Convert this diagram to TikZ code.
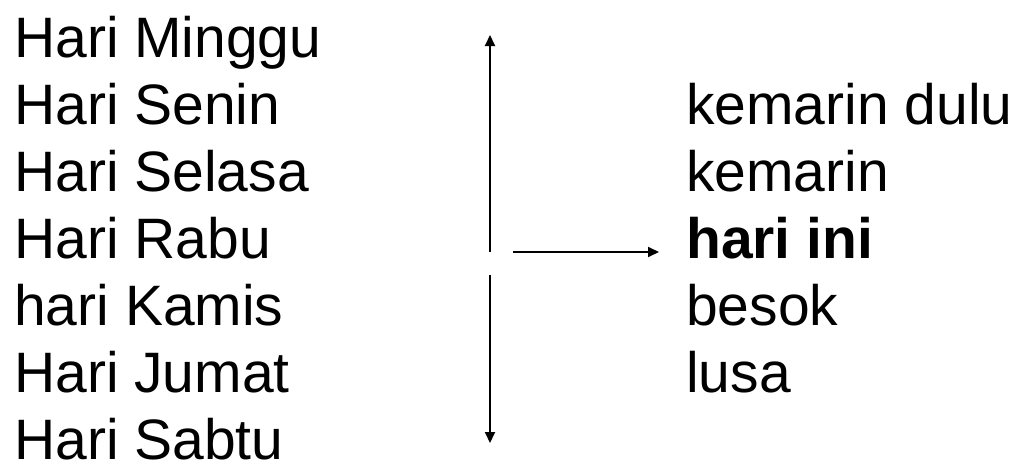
\documentclass[tikz,border=0pt]{standalone}
\usepackage{fontspec}
\setmainfont{Liberation Sans}
\usetikzlibrary{arrows.meta}
\begin{document}
\begin{tikzpicture}[x=1pt,y=1pt,>={Triangle[length=11pt,width=10pt]},
  word/.style={anchor=base west,inner sep=0pt,font=\fontsize{57}{67}\selectfont}]
\useasboundingbox (0,0) rectangle (1021,-466);
\foreach \d [count=\i] in {Hari Minggu,Hari Senin,Hari Selasa,Hari Rabu,hari Kamis,Hari Jumat,Hari Sabtu}
\node[word] (day\i) at (14,{-57-67*(\i-1)}) {\d};
\foreach \w [count=\i from 2] in {kemarin dulu,kemarin,{\bfseries hari ini},besok,lusa}
\node[word] (rel\i) at (686,{-57-67*(\i-1)}) {\w};
\coordinate (pasttip) at (490,-35);
\coordinate (pastend) at (490,-252);
\coordinate (nextend) at (490,-275);
\coordinate (nexttip) at (490,-443);
\coordinate (nowstart) at (513,-252);
\coordinate (nowtip) at (659,-252);
\draw[->,line width=2pt] (pastend) -- (pasttip);
\draw[->,line width=2pt] (nextend) -- (nexttip);
\draw[->,line width=2pt] (nowstart) -- (nowtip);
\end{tikzpicture}
\end{document}
